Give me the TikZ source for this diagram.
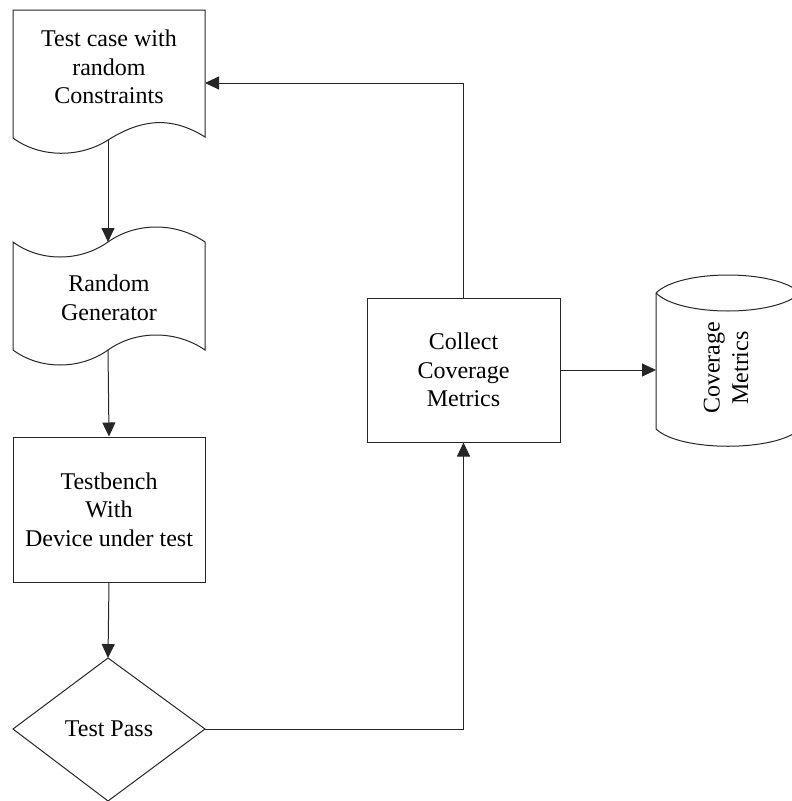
\documentclass[tikz,border=0pt]{standalone}
\usepackage{fontspec}
\setmainfont{Liberation Serif}
\usetikzlibrary{arrows.meta,shapes.geometric}
\begin{document}
\begin{tikzpicture}[x=1pt,y=-1pt,
  shapeline/.style={draw=black!85,line width=1pt,fill=white},
  lbl/.style={align=center,font=\fontsize{24}{28.5}\selectfont,inner sep=0pt},
  conn/.style={draw=black!85,line width=1pt},
  arr/.style={conn,-{Triangle[length=14pt,width=13pt]}}]
\useasboundingbox (0,0) rectangle (792,801);
\clip (0,0) rectangle (792,801);
% document shape
\draw[shapeline] (13,10) -- (205,10) -- (205,137)
  .. controls (170,115) and (140,120) .. (108,140)
  .. controls (80,158) and (40,158) .. (13,138) -- cycle;
\coordinate (docb) at (108,140);
\coordinate (docr) at (205,83);
\node[lbl] (doc) at (109,67) {Test case with\\random\\Constraints};
% punched tape
\draw[shapeline] (13,242) .. controls (40,262) and (80,262) .. (108,242)
  .. controls (136,222) and (176,222) .. (205,242) -- (205,350)
  .. controls (176,330) and (136,330) .. (108,350)
  .. controls (80,370) and (40,370) .. (13,350) -- cycle;
\coordinate (tapet) at (108,242);
\coordinate (tapeb) at (108,350);
\node[lbl] (tape) at (109,298) {Random\\Generator};
% testbench
\node[shapeline,lbl,minimum width=192pt,minimum height=145pt] (tb) at (109,509.5)
  {Testbench\\With\\Device under test};
% diamond
\draw[shapeline] (108,658) -- (205,729) -- (108,801) -- (13,729) -- cycle;
\coordinate (dt) at (108,658);
\coordinate (dr) at (205,729);
\node[lbl] (dtext) at (109,729) {Test Pass};
% collect
\node[shapeline,lbl,minimum width=193pt,minimum height=144pt] (col) at (463.5,370)
  {Collect\\Coverage\\Metrics};
% cylinder
\draw[shapeline] (656,293) .. controls (680,269) and (776,269) .. (800,293)
  -- (800,429) .. controls (776,452) and (680,452) .. (656,429) -- cycle;
\draw[conn] (656,293) .. controls (680,317) and (776,317) .. (800,293);
\coordinate (cyl) at (656,370);
\node[lbl,rotate=90] (cyltext) at (726,368) {Coverage\\Metrics};
% connectors
\draw[arr] (docb) -- (tapet);
\draw[arr] (tapeb) -- (tb.north);
\draw[arr] (tb.south) -- (dt);
\draw[arr] (dr) -| (col.south);
\draw[arr] (col.north) |- (docr);
\draw[arr] (col.east) -- (cyl);
\end{tikzpicture}
\end{document}
